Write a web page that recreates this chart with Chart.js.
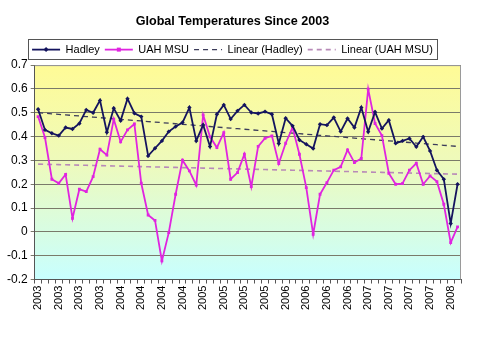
<!DOCTYPE html>
<html>
<head>
<meta charset="utf-8">
<script src="https://cdn.jsdelivr.net/npm/chart.js@4/dist/chart.umd.min.js"></script>
<style>
  body { margin: 0; background: #fff; }
  canvas { display: block; }
</style>
</head>
<body>
<canvas id="chart" width="480" height="360"></canvas>
<script>
// Données mensuelles janv. 2003 - févr. 2008
const labels = [
    '2003','2003','2003','2003','2003','2003','2003','2003','2003','2003','2003','2003',
    '2004','2004','2004','2004','2004','2004','2004','2004','2004','2004','2004','2004',
    '2005','2005','2005','2005','2005','2005','2005','2005','2005','2005','2005','2005',
    '2006','2006','2006','2006','2006','2006','2006','2006','2006','2006','2006','2006',
    '2007','2007','2007','2007','2007','2007','2007','2007','2007','2007','2007','2007',
    '2008','2008'
];

const hadley = [
    0.515, 0.428, 0.414, 0.404, 0.438, 0.432, 0.455, 0.512, 0.500, 0.552,
    0.418, 0.519, 0.467, 0.559, 0.498, 0.484, 0.319, 0.351, 0.382, 0.421,
    0.442, 0.459, 0.522, 0.382, 0.449, 0.358, 0.494, 0.533, 0.474, 0.508,
    0.533, 0.501, 0.497, 0.505, 0.494, 0.371, 0.477, 0.445, 0.386, 0.368,
    0.350, 0.452, 0.448, 0.480, 0.421, 0.476, 0.438, 0.522, 0.420, 0.503,
    0.434, 0.469, 0.372, 0.382, 0.392, 0.357, 0.399, 0.340, 0.259, 0.221,
    0.035, 0.200
];

const uahMsu = [
    0.484, 0.396, 0.221, 0.204, 0.241, 0.057, 0.179, 0.169, 0.232, 0.347,
    0.322, 0.473, 0.378, 0.428, 0.453, 0.204, 0.071, 0.048, -0.122, -0.003,
    0.158, 0.301, 0.256, 0.196, 0.491, 0.399, 0.354, 0.417, 0.221, 0.249,
    0.326, 0.190, 0.359, 0.393, 0.403, 0.287, 0.372, 0.438, 0.326, 0.186,
    -0.010, 0.158, 0.207, 0.259, 0.273, 0.344, 0.291, 0.308, 0.599, 0.455,
    0.404, 0.246, 0.200, 0.203, 0.259, 0.288, 0.200, 0.235, 0.211, 0.116,
    -0.045, 0.021
];

const yTicks = { min: -0.2, max: 0.7, step: 0.1 };

// Tendance linéaire (moindres carrés), comme Excel
function linearTrend(values) {
    const n = values.length;
    let sx = 0, sy = 0, sxy = 0, sxx = 0;
    values.forEach((v, i) => {
        sx += i; sy += v; sxy += i * v; sxx += i * i;
    });
    const slope = (n * sxy - sx * sy) / (n * sxx - sx * sx);
    const icpt = (sy - slope * sx) / n;
    return values.map((v, i) => icpt + slope * i);
}

const fontFamily = "'Liberation Sans', Arial, sans-serif";

// Fond dégradé de la zone de tracé + cadre
const plotBackground = {
    id: 'plotBackground',
    beforeDraw(chart) {
        const { ctx, chartArea: a } = chart;
        const grad = ctx.createLinearGradient(0, a.top, 0, a.bottom);
        grad.addColorStop(0, '#fffb96');
        grad.addColorStop(0.45, '#eefabb');
        grad.addColorStop(1, '#c8ffff');
        ctx.save();
        ctx.fillStyle = grad;
        ctx.fillRect(a.left, a.top, a.right - a.left, a.bottom - a.top);
        ctx.restore();
    },
    afterDraw(chart) {
        const { ctx, chartArea: a } = chart;
        ctx.save();
        ctx.strokeStyle = '#9a9a9a';
        ctx.lineWidth = 1;
        ctx.beginPath();
        ctx.moveTo(a.left, a.top + 0.5);
        ctx.lineTo(a.right - 0.5, a.top + 0.5);
        ctx.lineTo(a.right - 0.5, a.bottom);
        ctx.stroke();
        ctx.restore();
    }
};

// Cadre de la légende + marqueurs sur les lignes
const legendFrame = {
    id: 'legendFrame',
    afterDraw(chart) {
        const boxes = chart.legend.legendHitBoxes;
        if (!boxes || !boxes.length) return;
        const { ctx } = chart;
        const left = Math.min(...boxes.map(b => b.left)) - 4;
        const right = Math.max(...boxes.map(b => b.left + b.width)) + 4;
        const top = Math.min(...boxes.map(b => b.top)) - 5;
        const bottom = Math.max(...boxes.map(b => b.top + b.height)) + 4;
        ctx.save();
        ctx.strokeStyle = '#555';
        ctx.lineWidth = 1;
        ctx.strokeRect(Math.round(left) + 0.5, Math.round(top) + 0.5, Math.round(right - left), Math.round(bottom - top));

        const bw = chart.options.plugins.legend.labels.pointStyleWidth;
        const b0 = boxes[0];
        const b1 = boxes[1];
        // losange Hadley
        let cx = b0.left + bw / 2, cy = b0.top + b0.height / 2;
        ctx.fillStyle = '#14145e';
        ctx.beginPath();
        ctx.moveTo(cx, cy - 2.5); ctx.lineTo(cx + 2.5, cy); ctx.lineTo(cx, cy + 2.5); ctx.lineTo(cx - 2.5, cy);
        ctx.closePath();
        ctx.fill();
        // carré UAH
        cx = b1.left + bw / 2; cy = b1.top + b1.height / 2;
        ctx.fillStyle = '#e024e0';
        ctx.fillRect(cx - 2, cy - 2, 4, 4);
        ctx.restore();
    }
};

new Chart(document.getElementById('chart'), {
    type: 'line',
    data: {
        labels: labels,
        datasets: [{
            label: 'Hadley',
            data: hadley,
            borderColor: '#14145e',
            backgroundColor: '#14145e',
            borderWidth: 1.8,
            pointStyle: 'rectRot',
            pointRadius: 2.2,
            pointBorderWidth: 0,
            tension: 0,
            order: 1
        }, {
            label: 'UAH MSU',
            data: uahMsu,
            borderColor: '#e024e0',
            backgroundColor: '#e024e0',
            borderWidth: 1.8,
            pointStyle: 'rect',
            pointRadius: 2,
            pointBorderWidth: 0,
            tension: 0,
            order: 2
        }, {
            label: 'Linear (Hadley)',
            data: linearTrend(hadley),
            borderColor: '#3c3c5a',
            borderWidth: 1.3,
            borderDash: [5, 4],
            pointRadius: 0,
            order: 3
        }, {
            label: 'Linear (UAH MSU)',
            data: linearTrend(uahMsu),
            borderColor: '#b88ab8',
            borderWidth: 1.6,
            borderDash: [5, 4],
            pointRadius: 0,
            order: 4
        }]
    },
    options: {
        responsive: false,
        animation: false,
        devicePixelRatio: 1,
        layout: {
            padding: { left: 4, right: 19, top: 0, bottom: 48 }
        },
        plugins: {
            title: {
                display: true,
                text: 'Global Temperatures Since 2003',
                color: '#000',
                font: { family: fontFamily, size: 12.6, weight: 'bold' },
                padding: { top: 14, bottom: 10 }
            },
            legend: {
                display: true,
                labels: {
                    color: '#000',
                    font: { family: fontFamily, size: 11 },
                    usePointStyle: true,
                    pointStyleWidth: 28,
                    padding: 5,
                    generateLabels(chart) {
                        return chart.data.datasets.map((ds, i) => ({
                            text: ds.label,
                            fillStyle: ds.borderColor,
                            strokeStyle: ds.borderColor,
                            lineWidth: ds.borderWidth,
                            lineDash: ds.borderDash || [],
                            pointStyle: 'line',
                            datasetIndex: i,
                            hidden: false
                        }));
                    }
                }
            },
            tooltip: { enabled: false }
        },
        scales: {
            x: {
                type: 'category',
                offset: true,
                grid: {
                    display: true,
                    drawOnChartArea: false,
                    offset: true,
                    tickLength: 4,
                    color: '#555'
                },
                border: { color: '#555' },
                ticks: {
                    autoSkip: false,
                    maxRotation: 90,
                    minRotation: 90,
                    padding: 2,
                    color: '#000',
                    font: { family: fontFamily, size: 11 },
                    callback: (val, idx) => (idx % 3 === 0 ? labels[idx] : '')
                }
            },
            y: {
                min: yTicks.min,
                max: yTicks.max,
                grid: {
                    color: '#7a7a6a',
                    lineWidth: 1,
                    tickLength: 4,
                    drawTicks: true
                },
                border: { color: '#555' },
                ticks: {
                    stepSize: yTicks.step,
                    color: '#000',
                    padding: 3,
                    font: { family: fontFamily, size: 12 },
                    callback: (v) => String(Math.round(v * 10) / 10)
                }
            }
        }
    },
    plugins: [plotBackground, legendFrame]
});
</script>
</body>
</html>
